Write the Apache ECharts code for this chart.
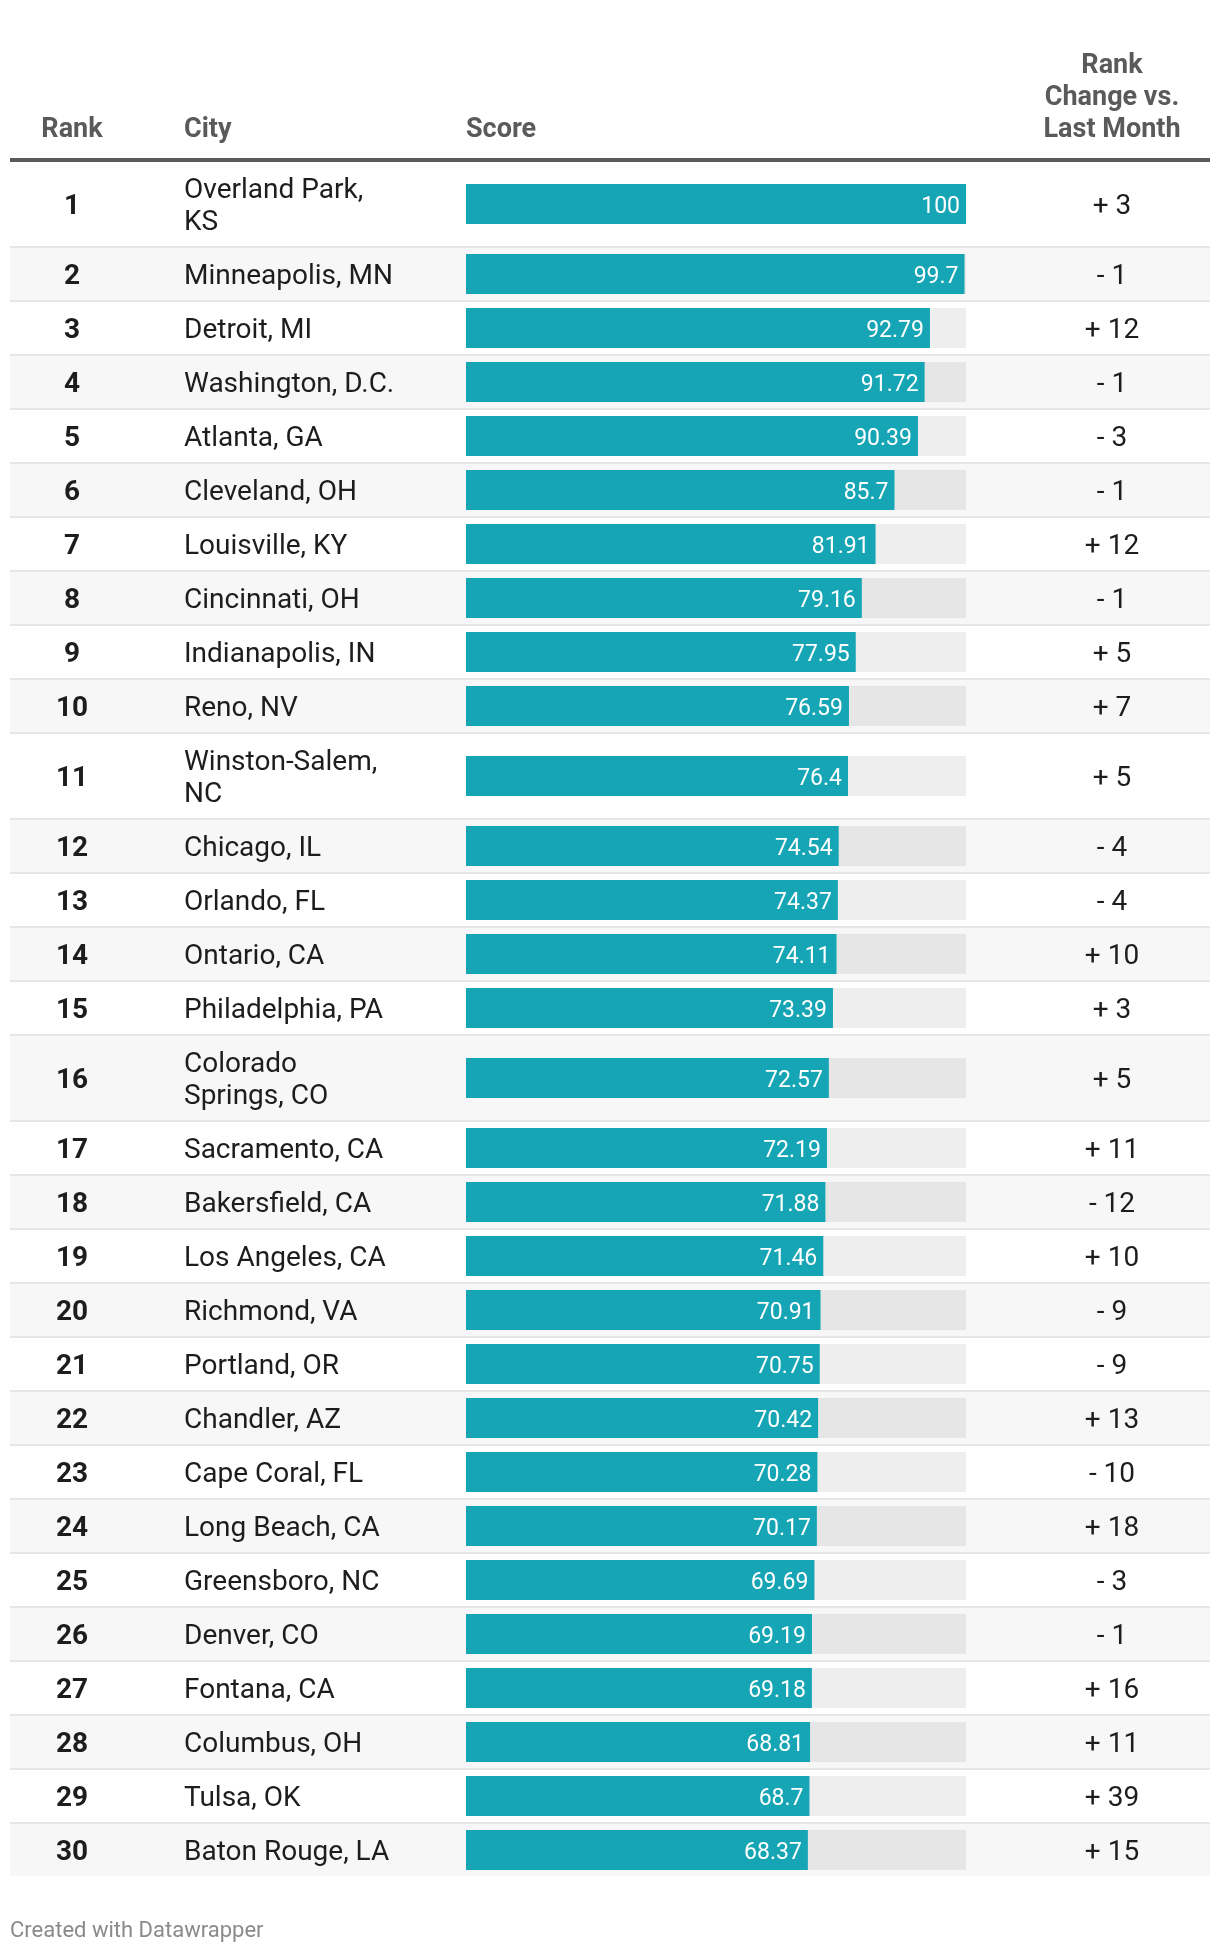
<!DOCTYPE html>
<html>
<head>
<meta charset="utf-8">
<script src="https://cdn.jsdelivr.net/npm/echarts@6/dist/echarts.min.js"></script>
<style>
html,body{margin:0;padding:0;background:#fff;}
#chart{width:1220px;height:1952px;}
</style>
</head>
<body>
<div id="chart"></div>
<script>
// ---- data ----
const ranks = [1,2,3,4,5,6,7,8,9,10,11,12,13,14,15,16,17,18,19,20,21,22,23,24,25,26,27,28,29,30];
const cities = [
  "Overland Park,\nKS","Minneapolis, MN","Detroit, MI","Washington, D.C.","Atlanta, GA",
  "Cleveland, OH","Louisville, KY","Cincinnati, OH","Indianapolis, IN","Reno, NV",
  "Winston-Salem,\nNC","Chicago, IL","Orlando, FL","Ontario, CA","Philadelphia, PA",
  "Colorado\nSprings, CO","Sacramento, CA","Bakersfield, CA","Los Angeles, CA","Richmond, VA",
  "Portland, OR","Chandler, AZ","Cape Coral, FL","Long Beach, CA","Greensboro, NC",
  "Denver, CO","Fontana, CA","Columbus, OH","Tulsa, OK","Baton Rouge, LA"
];
const scores = [100,99.7,92.79,91.72,90.39,85.7,81.91,79.16,77.95,76.59,
  76.4,74.54,74.37,74.11,73.39,72.57,72.19,71.88,71.46,70.91,
  70.75,70.42,70.28,70.17,69.69,69.19,69.18,68.81,68.7,68.37];
const rankChanges = [3,-1,12,-1,-3,-1,12,-1,5,7,5,-4,-4,10,3,5,11,-12,10,-9,-9,13,-10,18,-3,-1,16,11,39,15];
const headers = {rank:"Rank", city:"City", score:"Score", change:"Rank\nChange vs.\nLast Month"};
const footer = "Created with Datawrapper";

// ---- layout (row heights from number of text lines) ----
const FONT = "Roboto";
const TY = 3; // text baseline nudge
const rows = [];
let acc = 0;
cities.forEach((c, i) => {
  const lines = c.split("\n").length;
  const h = 22 + 32 * lines;
  rows.push([scores[i], acc + h / 2, i, acc, h]);
  acc += h;
});
const total = acc;

const fmtChange = v => (v >= 0 ? "+ " : "- ") + Math.abs(v);

const chart = echarts.init(document.getElementById("chart"), null, {renderer: "canvas"});
chart.setOption({
  animation: false,
  backgroundColor: "#ffffff",
  grid: {left: 466, width: 500, top: 160, height: total},
  xAxis: {type: "value", min: 0, max: 100, show: false},
  yAxis: {type: "value", min: 0, max: total, inverse: true, show: false},
  graphic: [
    {type: "rect", shape: {x: 10, y: 158, width: 1200, height: 4}, style: {fill: "#5a5a5a"}, z: 10},
    {type: "text", x: 72, y: 127 + TY, style: {text: headers.rank, font: "bold 27px " + FONT, fill: "#5a5a5a", align: "center", verticalAlign: "middle"}},
    {type: "text", x: 184, y: 127 + TY, style: {text: headers.city, font: "bold 27px " + FONT, fill: "#5a5a5a", align: "left", verticalAlign: "middle"}},
    {type: "text", x: 466, y: 127 + TY, style: {text: headers.score, font: "bold 27px " + FONT, fill: "#5a5a5a", align: "left", verticalAlign: "middle"}},
    {type: "text", x: 1112, y: 95 + TY, style: {text: headers.change, font: "bold 27px " + FONT, lineHeight: 32, fill: "#5a5a5a", align: "center", verticalAlign: "middle"}},
    {type: "text", x: 10, y: 1928 + TY, style: {text: footer, font: "22px " + FONT, fill: "#8a8a8a", align: "left", verticalAlign: "middle"}}
  ],
  series: [{
    type: "custom",
    clip: false,
    encode: {x: 0, y: 1},
    data: rows,
    renderItem: function (params, api) {
      const score = api.value(0);
      const i = api.value(2);
      const top = api.value(3);
      const h = api.value(4);
      const yTop = api.coord([0, top])[1];
      const yBot = api.coord([0, top + h])[1];
      const cTop = yTop + 2;
      const cy = (cTop + yBot) / 2;
      const x0 = api.coord([0, 0])[0];
      const xs = api.coord([score, 0])[0];
      const x100 = api.coord([100, 0])[0];
      const striped = i % 2 === 1;
      const children = [];
      if (i > 0) {
        children.push({type: "rect", shape: {x: 10, y: yTop, width: 1200, height: 2}, style: {fill: "#e6e6e6"}});
      }
      if (striped) {
        children.push({type: "rect", shape: {x: 10, y: cTop, width: 1200, height: yBot - cTop}, style: {fill: "#f7f7f7"}});
      }
      children.push({type: "rect", shape: {x: x0, y: cy - 20, width: x100 - x0, height: 40}, style: {fill: striped ? "#e6e6e6" : "#eeeeee"}});
      children.push({type: "rect", shape: {x: x0, y: cy - 20, width: xs - x0, height: 40}, style: {fill: "#15a5b5"}});
      children.push({type: "text", x: xs - 6, y: cy + TY, style: {text: String(score), font: "23px " + FONT, fill: "#ffffff", align: "right", verticalAlign: "middle"}});
      children.push({type: "text", x: 72, y: cy + TY, style: {text: String(ranks[i]), font: "bold 28px " + FONT, fill: "#1d1d1d", align: "center", verticalAlign: "middle"}});
      children.push({type: "text", x: 184, y: cy + TY, style: {text: cities[i], font: "28px " + FONT, lineHeight: 32, fill: "#1d1d1d", align: "left", verticalAlign: "middle"}});
      children.push({type: "text", x: 1112, y: cy + TY, style: {text: fmtChange(rankChanges[i]), font: "28px " + FONT, fill: "#1d1d1d", align: "center", verticalAlign: "middle"}});
      return {type: "group", children: children};
    }
  }]
});
</script>
</body>
</html>
